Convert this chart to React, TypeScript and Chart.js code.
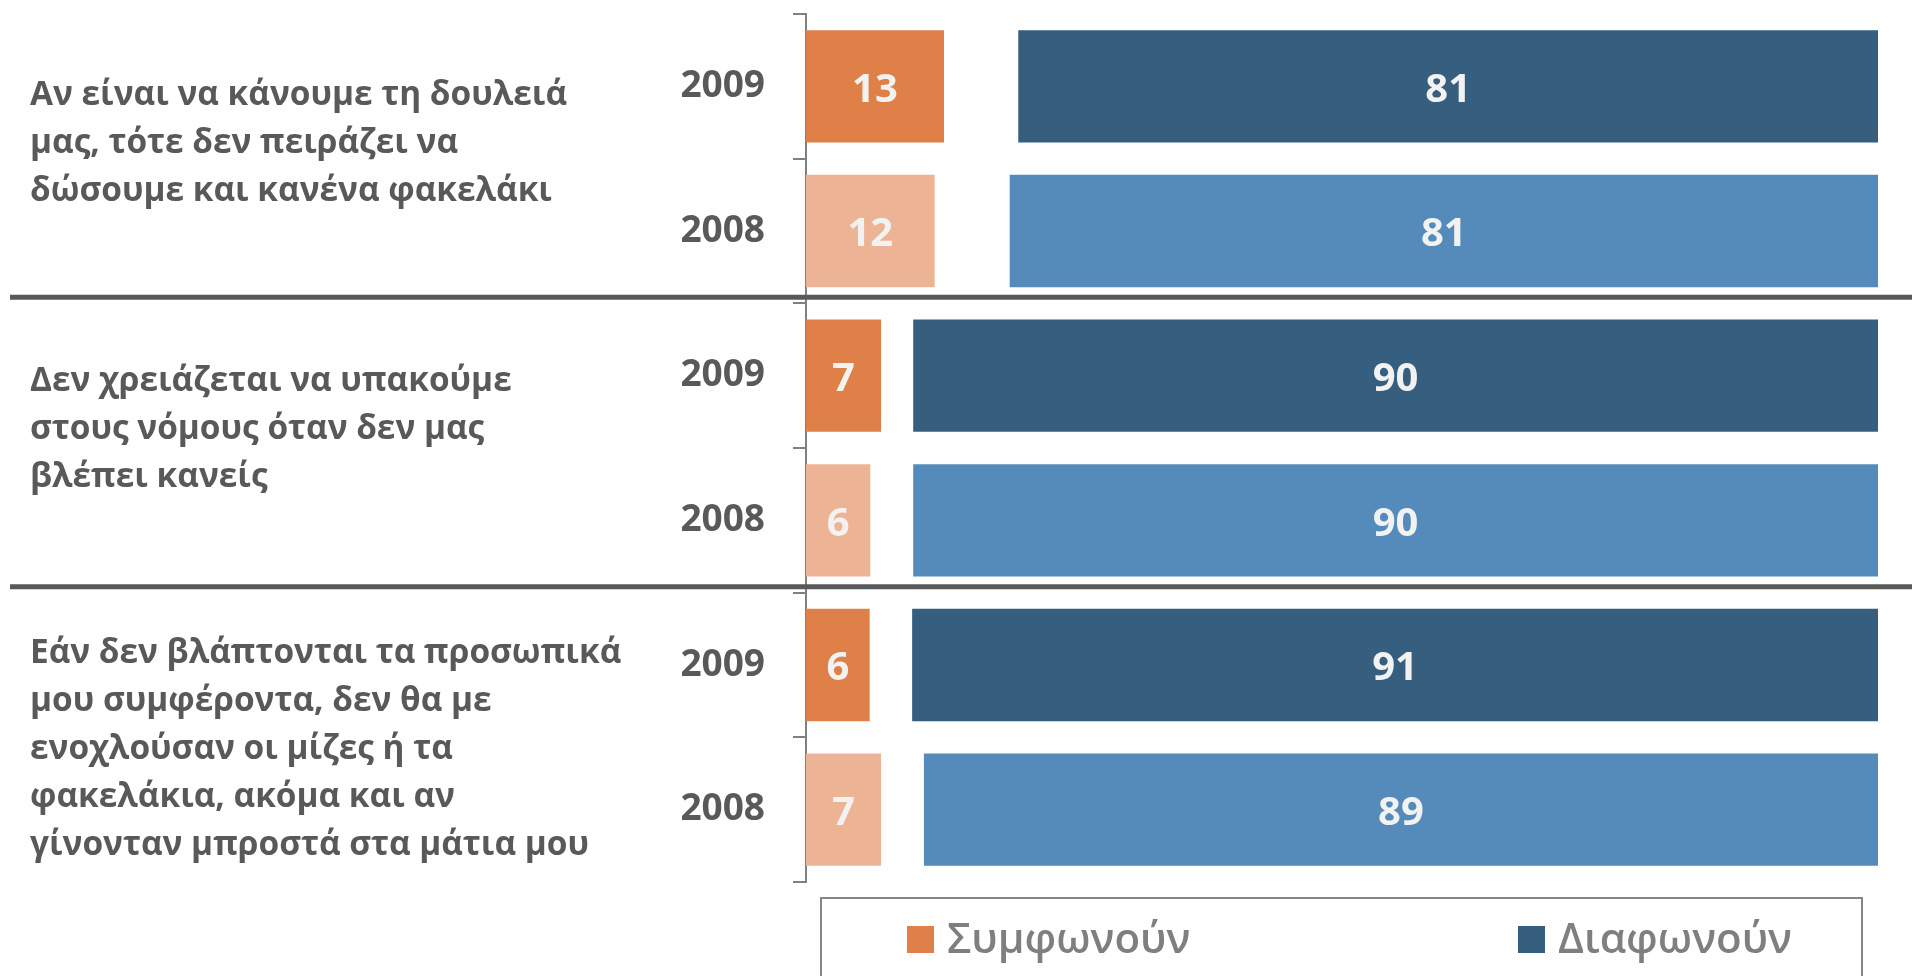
import React, { useEffect, useRef } from 'react';
import { Chart, registerables } from 'chart.js';

Chart.register(...registerables);

// ---- data ----
const years = ['2009', '2008', '2009', '2008', '2009', '2008'];
const groupLabels: string[][] = [
  ['Αν είναι να κάνουμε τη δουλειά', 'μας, τότε δεν πειράζει να', 'δώσουμε και κανένα φακελάκι'],
  ['Δεν χρειάζεται να υπακούμε', 'στους νόμους όταν δεν μας', 'βλέπει κανείς'],
  [
    'Εάν δεν βλάπτονται τα προσωπικά',
    'μου συμφέροντα, δεν θα με',
    'ενοχλούσαν οι μίζες ή τα',
    'φακελάκια, ακόμα και αν',
    'γίνονταν μπροστά στα μάτια μου',
  ],
];
const agree = [13, 12, 7, 6, 6, 7];
const dontKnow = [7, 7, 3, 4, 4, 4];
const disagree = [81, 81, 90, 90, 91, 89];
const seriesNames = ['Συμφωνούν', 'ΔΓ/ΔΑ', 'Διαφωνούν'];

// ---- styles ----
const agreeColors: Record<string, string> = { '2009': '#DE8048', '2008': '#EDB395' };
const disagreeColors: Record<string, string> = { '2009': '#365E7E', '2008': '#558BBA' };
const FONT = "'Open Sans', 'Noto Sans', sans-serif";
const TEXT_GRAY = '#595959';
const groupShift = [-6, -9, 22];
const LINE_H = 48;

const totals = agree.map((a, i) => a + dontKnow[i] + disagree[i]);
const pct = (arr: number[]) => arr.map((v, i) => (v / totals[i]) * 100);

export default function App() {
  const ref = useRef<HTMLCanvasElement | null>(null);

  useEffect(() => {
    const canvas = ref.current;
    if (!canvas) return;

    const overlay = {
      id: 'overlay',
      afterDatasetsDraw(chart: any) {
        const ctx = chart.ctx as CanvasRenderingContext2D;
        ctx.save();
        ctx.fillStyle = '#F2F2F2';
        ctx.font = `bold 40px ${FONT}`;
        ctx.textAlign = 'center';
        ctx.textBaseline = 'alphabetic';
        const raws = [agree, dontKnow, disagree];
        [0, 2].forEach((di) => {
          const meta = chart.getDatasetMeta(di);
          meta.data.forEach((el: any, i: number) => {
            const c = el.getCenterPoint();
            ctx.fillText(String(raws[di][i]), c.x, c.y + 40 * 0.357 + 1);
          });
        });
        ctx.restore();
      },
      afterDraw(chart: any) {
        const ctx = chart.ctx as CanvasRenderingContext2D;
        const y = chart.scales.y;
        const ca = chart.chartArea;
        const pos = (i: number) => y.getPixelForValue(i);
        const bound = (i: number) => {
          if (i <= 0) return ca.top;
          if (i >= years.length) return ca.bottom;
          return (pos(i - 1) + pos(i)) / 2;
        };
        ctx.save();
        // separators
        ctx.strokeStyle = '#595959';
        ctx.lineWidth = 5;
        for (let g = 1; g < groupLabels.length; g++) {
          const by = bound(g * 2) - 6;
          ctx.beginPath();
          ctx.moveTo(10, by);
          ctx.lineTo(chart.width, by);
          ctx.stroke();
        }
        // group labels
        ctx.fillStyle = TEXT_GRAY;
        ctx.font = `bold 33.4px ${FONT}`;
        ctx.textAlign = 'left';
        ctx.textBaseline = 'alphabetic';
        groupLabels.forEach((lines, g) => {
          const center = (bound(g * 2) + bound(g * 2 + 2)) / 2 + groupShift[g];
          const n = lines.length;
          lines.forEach((ln, k) => {
            ctx.fillText(ln, 30, center + (k - (n - 1) / 2) * LINE_H);
          });
        });
        // legend
        ctx.strokeStyle = '#868686';
        ctx.lineWidth = 2;
        ctx.strokeRect(821, 898, 1862 - 821, 200);
        const items = [
          { name: seriesNames[0], color: agreeColors['2009'], x: 907 },
          { name: seriesNames[2], color: disagreeColors['2009'], x: 1518 },
        ];
        ctx.font = `600 42px ${FONT}`;
        items.forEach((it) => {
          ctx.fillStyle = it.color;
          ctx.fillRect(it.x, 926, 27, 27);
          ctx.fillStyle = '#7F7F7F';
          ctx.fillText(it.name, it.x + 40, 953);
        });
        ctx.restore();
      },
    };

    const chart = new Chart(canvas, {
      type: 'bar',
      data: {
        labels: years,
        datasets: [
          {
            label: seriesNames[0],
            data: pct(agree),
            backgroundColor: years.map((yy) => agreeColors[yy]),
            categoryPercentage: 1,
            barPercentage: 0.776,
          },
          {
            label: seriesNames[1],
            data: pct(dontKnow),
            backgroundColor: 'rgba(0,0,0,0)',
            categoryPercentage: 1,
            barPercentage: 0.776,
          },
          {
            label: seriesNames[2],
            data: pct(disagree),
            backgroundColor: years.map((yy) => disagreeColors[yy]),
            categoryPercentage: 1,
            barPercentage: 0.776,
          },
        ],
      },
      options: {
        indexAxis: 'y',
        responsive: false,
        animation: false,
        layout: { padding: { left: 0, top: 14, right: 34, bottom: 94 } },
        plugins: { legend: { display: false }, tooltip: { enabled: false } },
        scales: {
          x: { stacked: true, min: 0, max: 100, display: false },
          y: {
            stacked: true,
            grid: {
              offset: true,
              drawOnChartArea: false,
              drawTicks: true,
              tickLength: 13,
              color: '#808080',
              lineWidth: 2,
            },
            border: { display: true, color: '#808080', width: 2 },
            ticks: {
              color: TEXT_GRAY,
              font: { family: FONT, size: 37, weight: 'bold' },
              padding: 28,
            },
            afterFit: (s: any) => {
              s.width = 806;
              s.paddingTop = 0;
              s.paddingBottom = 0;
            },
          },
        },
      },
      plugins: [overlay],
    } as any);

    return () => chart.destroy();
  }, []);

  return (
    <div style={{ position: 'absolute', left: 0, top: 0, width: 1912, height: 976, background: '#fff' }}>
      <canvas ref={ref} width={1912} height={976} style={{ width: 1912, height: 976, display: 'block' }} />
    </div>
  );
}
